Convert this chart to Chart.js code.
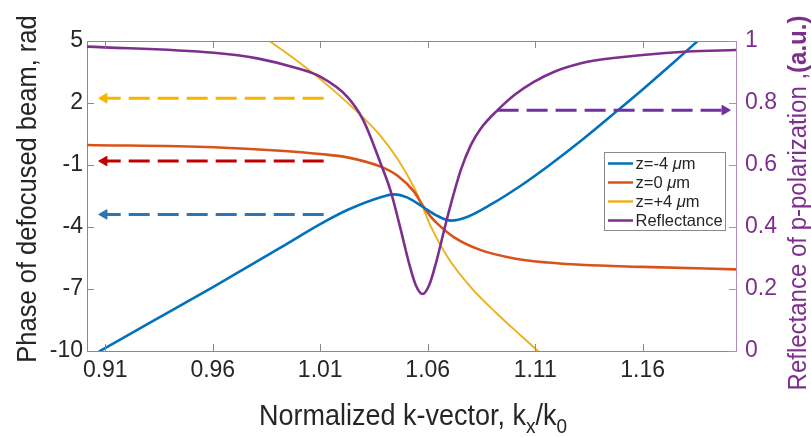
<!DOCTYPE html>
<html><head><meta charset="utf-8">
<script src="https://cdn.jsdelivr.net/npm/chart.js@4.4.0/dist/chart.umd.min.js"></script>
<style>html,body{margin:0;padding:0;background:#fff}#wrap{width:811px;height:437px;position:relative}</style>
</head><body><div id="wrap"><canvas id="c" width="811" height="437"></canvas></div>
<script>
// ---- data ----
const xTicks = [0.91, 0.96, 1.01, 1.06, 1.11, 1.16];
const yTicks = [-10, -7, -4, -1, 2, 5];
const y2Ticks = [0, 0.2, 0.4, 0.6, 0.8, 1];
const seriesLabels = ['z=-4 ', 'z=0 ', 'z=+4 ', 'Reflectance'];

const blueX = [0.907, 0.93, 0.9605, 0.9915, 1.01, 1.0226, 1.0381, 1.0443, 1.0506, 1.0576, 1.0646, 1.0708, 1.0786, 1.0894, 1.1034, 1.1158, 1.1313, 1.1495, 1.1608, 1.1733, 1.1875];
const blueY = [-10.03, -8.68, -6.88, -5.0, -3.86, -3.18, -2.56, -2.42, -2.58, -3.02, -3.47, -3.69, -3.50, -2.91, -1.99, -1.07, 0.17, 1.74, 2.73, 3.86, 5.18];

const orangeX = [0.9015, 0.9605, 0.9915, 1.01, 1.0226, 1.0381, 1.046, 1.0537, 1.0576, 1.0614, 1.0646, 1.0723, 1.0847, 1.1003, 1.1158, 1.1313, 1.16, 1.2034];
const orangeY = [-0.03, -0.14, -0.31, -0.47, -0.63, -1.08, -1.52, -2.30, -2.95, -3.50, -3.85, -4.50, -5.12, -5.52, -5.72, -5.83, -5.93, -6.05];

const yellowX = [0.978, 1.0, 1.015, 1.03, 1.038, 1.046, 1.0537, 1.0576, 1.0614, 1.0692, 1.0801, 1.0925, 1.1034, 1.1125];
const yellowY = [5.61, 3.98, 2.72, 1.29, 0.41, -0.71, -2.10, -3.02, -3.97, -5.45, -6.92, -8.22, -9.26, -10.12];

const reflX = [0.9015, 0.9605, 0.9807, 0.9993, 1.01, 1.0226, 1.030, 1.0381, 1.0428, 1.0475, 1.0513, 1.0544, 1.0576, 1.0607, 1.0638, 1.0692, 1.0754, 1.0801, 1.0847, 1.0925, 1.1003, 1.1096, 1.1189, 1.1313, 1.1376, 1.16, 1.181, 1.2034];
const reflY = [0.982, 0.962, 0.944, 0.912, 0.885, 0.82, 0.745, 0.605, 0.515, 0.39, 0.283, 0.213, 0.184, 0.213, 0.283, 0.433, 0.584, 0.665, 0.718, 0.777, 0.826, 0.869, 0.901, 0.928, 0.937, 0.955, 0.966, 0.971];

// arrows: [tailX, headX, y]
const arrowYellow = [1.0116, 0.9095, 2.23];
const arrowRed = [1.0116, 0.9095, -0.81];
const arrowBlue = [1.0116, 0.9095, -3.39];
const arrowPurple = [1.0925, 1.1982, 0.777];

// ---- styling ----
const FONT = "'Liberation Sans', Arial, Helvetica, sans-serif";
const TXT = '#262626';
const C_BLUE = '#0072BD', C_ORANGE = '#D95319', C_YELLOW = '#EDB120', C_PURPLE = '#7E2F8E';
const AXIS_PURPLE = '#b68bc4';

function pts(xs, ys) { return xs.map((x, i) => ({x: x, y: ys[i]})); }
function curve(label, xs, ys, color, width, axis) {
  return {label, data: pts(xs, ys), borderColor: color, backgroundColor: color, borderWidth: width,
    pointRadius: 0, cubicInterpolationMode: 'monotone', yAxisID: axis, fill: false};
}
function arrow(a, color, axis, rot) {
  return {label: '_arrow', data: [{x: a[0], y: a[2]}, {x: a[1], y: a[2]}], borderColor: color, backgroundColor: color,
    borderWidth: 3, borderDash: [21, 8], pointRadius: [0, 5.5], pointStyle: 'triangle', rotation: rot,
    pointBackgroundColor: color, pointBorderColor: color, pointBorderWidth: 1, yAxisID: axis, fill: false, order: 0};
}

const legendItems = [
  {text: seriesLabels[0], mu: true, color: C_BLUE},
  {text: seriesLabels[1], mu: true, color: C_ORANGE},
  {text: seriesLabels[2], mu: true, color: C_YELLOW},
  {text: seriesLabels[3], mu: false, color: C_PURPLE}
];

function drawSegs(ctx, segs, x, y) {
  let w = 0;
  segs.forEach(s => { ctx.font = s.font; w += ctx.measureText(s.t).width; });
  let cx = x - w / 2;
  segs.forEach(s => { ctx.font = s.font; ctx.fillText(s.t, cx, y + (s.dy || 0)); cx += ctx.measureText(s.t).width; });
}

const deco = {
  id: 'deco',
  afterDraw(chart) {
    const {ctx, chartArea: a, scales} = chart;
    ctx.save();
    const line = (x1, y1, x2, y2) => { ctx.beginPath(); ctx.moveTo(x1, y1); ctx.lineTo(x2, y2); ctx.stroke(); };
    ctx.lineWidth = 1;
    ctx.strokeStyle = '#8a8a8a';
    line(a.left, a.top + 0.5, a.right, a.top + 0.5);
    xTicks.forEach(v => { const p = Math.round(scales.x.getPixelForValue(v)) + 0.5; line(p, a.bottom, p, a.bottom - 7); line(p, a.top, p, a.top + 7); });
    yTicks.forEach(v => { const p = Math.round(scales.y.getPixelForValue(v)) + 0.5; line(a.left, p, a.left + 7, p); });
    ctx.strokeStyle = AXIS_PURPLE;
    y2Ticks.forEach(v => { const p = Math.round(scales.y2.getPixelForValue(v)) + 0.5; line(a.right, p, a.right - 7, p); });

    // titles
    ctx.fillStyle = TXT; ctx.textBaseline = 'alphabetic'; ctx.textAlign = 'left';
    ctx.save();
    ctx.translate(0, 425);
    ctx.scale(1, 1.1);
    drawSegs(ctx, [
      {t: 'Normalized k-vector, k', font: '27px ' + FONT},
      {t: 'x', font: '19px ' + FONT, dy: 7},
      {t: '/k', font: '27px ' + FONT},
      {t: '0', font: '19px ' + FONT, dy: 7}
    ], 413, 0);
    ctx.restore();

    ctx.save();
    ctx.translate(36, (a.top + a.bottom) / 2 - 7);
    ctx.rotate(-Math.PI / 2);
    ctx.scale(1, 1.1);
    drawSegs(ctx, [{t: 'Phase of defocused beam, rad', font: '25.5px ' + FONT}], 0, 0);
    ctx.restore();

    ctx.save();
    ctx.fillStyle = C_PURPLE;
    ctx.translate(806, 203);
    ctx.rotate(-Math.PI / 2);
    ctx.scale(1, 1.08);
    drawSegs(ctx, [{t: 'Reflectance of p-polarization ,', font: '24px ' + FONT}, {t: '(a.u.)', font: 'bold 24px ' + FONT}], 0, 0);
    ctx.restore();

    // legend
    const lx = 604.5, ly = 152.5, lw = 121, lh = 78;
    ctx.fillStyle = '#fff'; ctx.fillRect(lx, ly, lw, lh);
    ctx.strokeStyle = '#8a8a8a'; ctx.lineWidth = 1; ctx.strokeRect(lx, ly, lw, lh);
    legendItems.forEach((it, i) => {
      const cy = 163.5 + i * 19;
      ctx.strokeStyle = it.color; ctx.lineWidth = 2.5;
      line(608, cy, 633, cy);
      ctx.fillStyle = TXT; ctx.textBaseline = 'middle'; ctx.textAlign = 'left';
      ctx.font = '16.5px ' + FONT;
      let x = 635.5;
      ctx.fillText(it.text, x, cy + 1); x += ctx.measureText(it.text).width;
      if (it.mu) {
        ctx.font = 'italic 16.5px ' + FONT; ctx.fillText('\u03bc', x, cy + 1); x += ctx.measureText('\u03bc').width;
        ctx.font = '16.5px ' + FONT; ctx.fillText('m', x, cy + 1);
      }
    });
    ctx.restore();
  }
};

new Chart(document.getElementById('c'), {
  type: 'line',
  data: {
    datasets: [
      arrow(arrowYellow, '#F5B400', 'y', -90),
      arrow(arrowRed, '#C00000', 'y', -90),
      arrow(arrowBlue, '#2E75B6', 'y', -90),
      arrow(arrowPurple, '#7030A0', 'y2', 90),
      Object.assign(curve(seriesLabels[3], reflX, reflY, C_PURPLE, 2.6, 'y2'), {order: 1}),
      Object.assign(curve(seriesLabels[0], blueX, blueY, C_BLUE, 2.6, 'y'), {order: 2}),
      Object.assign(curve(seriesLabels[1], orangeX, orangeY, C_ORANGE, 2.6, 'y'), {order: 3}),
      Object.assign(curve(seriesLabels[2], yellowX, yellowY, C_YELLOW, 1.9, 'y'), {order: 4})
    ]
  },
  options: {
    responsive: false, animation: false, devicePixelRatio: 1,
    layout: {padding: {top: 41, left: 0, right: 0, bottom: 0}},
    plugins: {legend: {display: false}, tooltip: {enabled: false}, title: {display: false}},
    scales: {
      x: {
        type: 'linear', min: 0.9015, max: 1.2034,
        afterBuildTicks: s => { s.ticks = xTicks.map(v => ({value: v})); },
        afterFit: s => { s.height = 86; },
        grid: {display: false, drawTicks: false},
        border: {display: true, color: '#8a8a8a', width: 1},
        ticks: {callback: v => Number(v).toFixed(2), color: TXT, font: {size: 23, family: FONT}, padding: 6, maxRotation: 0, autoSkip: false}
      },
      y: {
        type: 'linear', position: 'left', min: -10, max: 5,
        afterBuildTicks: s => { s.ticks = yTicks.map(v => ({value: v})); },
        afterFit: s => { s.width = 87; },
        grid: {display: false, drawTicks: false},
        border: {display: true, color: '#8a8a8a', width: 1},
        ticks: {callback: v => String(v), color: TXT, font: {size: 23, family: FONT}, padding: 4}
      },
      y2: {
        type: 'linear', position: 'right', min: 0, max: 1,
        afterBuildTicks: s => { s.ticks = y2Ticks.map(v => ({value: v})); },
        afterFit: s => { s.width = 75; },
        grid: {display: false, drawTicks: false},
        border: {display: true, color: AXIS_PURPLE, width: 1},
        ticks: {callback: v => String(Math.round(v * 10) / 10), color: C_PURPLE, font: {size: 23, family: FONT}, padding: 9}
      }
    }
  },
  plugins: [deco]
});
</script></body></html>
